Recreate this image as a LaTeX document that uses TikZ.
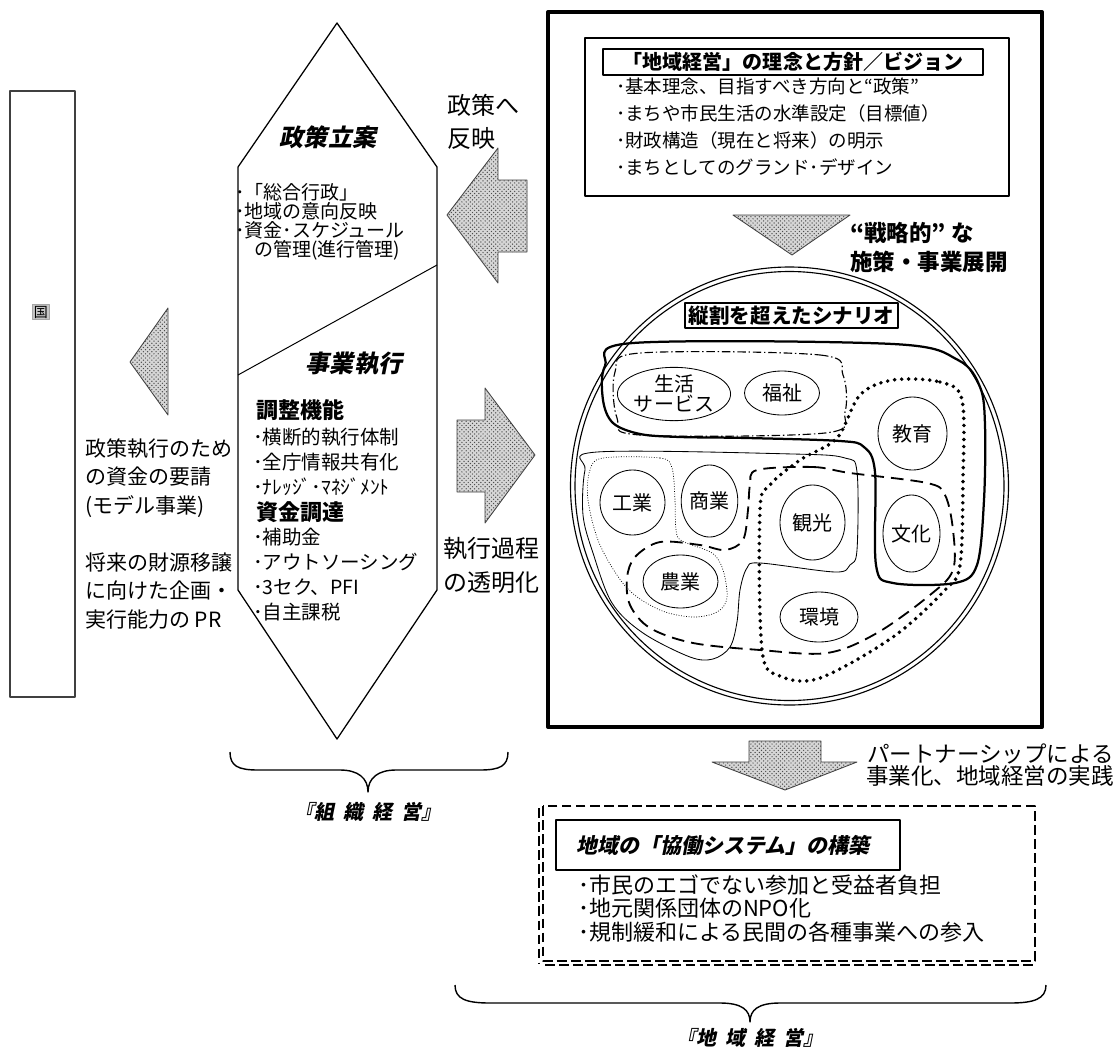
\documentclass[tikz,border=0pt]{standalone}
\usepackage{fontspec}
\setmainfont{Noto Sans CJK JP}
\newfontfamily\jpsl{Noto Sans CJK JP}[FakeSlant=0.2]
\usetikzlibrary{patterns,shapes.geometric}
\newcommand\px[2]{\fontsize{\fpeval{#1*0.71132}pt}{\fpeval{#2*0.71132}pt}\selectfont}
\newcommand\txtlines[6]{%
  \foreach \lntxt [count=\i from 0] in {#6} {\node[#2] (#1\i) at (#3,{#4+\i*#5}) {\lntxt};}}
\newcommand\fieldnode[6]{\node[field, minimum width={#4*0.025cm}, minimum height={#5*0.025cm}] (#1) at (#2,#3) {#6};}
\newcommand\gapsp{\hspace{0.45em}}
\tikzset{
  lbl/.style={anchor=base west, inner sep=0pt, outer sep=0pt},
  cbl/.style={anchor=base, inner sep=0pt, outer sep=0pt},
  hatch/.style={draw=black!75, line width=0.6pt, fill=gray!32,
    postaction={pattern=crosshatch dots, pattern color=black!70}},
  field/.style={ellipse, draw, line width=0.6pt, inner sep=0pt, align=center, font={\px{20}{20}}},
}
\begin{document}
\begin{tikzpicture}[x=0.025cm,y=-0.025cm,line join=round]
\useasboundingbox (0,0) rectangle (1119,1052);
\fill[white] (0,0) rectangle (1119,1052);

% ---- country column
\draw[line width=0.8pt, black!75] (10,91) rectangle (75,697);
\node[fill=gray!45, draw=gray!70, inner sep=1pt, font={\px{14}{14}}] (kuni) at (41,312) {国};
\draw[hatch] (130,362) -- (168,308) -- (168,415) -- cycle;
\txtlines{req}{lbl, font={\px{21}{21}}}{85}{456}{28.5}{政策執行のため,の資金の要請,(モデル事業)}
\txtlines{pr}{lbl, font={\px{21}{21}}}{85}{570}{28.5}{将来の財源移譲,に向けた企画・,実行能力の PR}

% ---- organisation hexagon
\draw[line width=0.9pt] (337,23) -- (437,167) -- (437,590) -- (337,739) -- (238,590) -- (238,167) -- cycle;
\draw[line width=0.7pt] (437,265) -- (238,375);
\node[cbl, font={\jpsl\bfseries\px{24}{24}}] (plan) at (328,146) {政策立案};
\txtlines{pl}{lbl, font={\px{19}{19}}}{235}{199}{19}{･「総合行政」,･地域の意向反映,･資金･スケジュール}
\node[lbl, font={\px{19}{19}}] (pl3) at (254,256) {の管理(進行管理)};
\node[cbl, font={\jpsl\bfseries\px{24}{24}}] (exec) at (354,372) {事業執行};
\node[lbl, font={\bfseries\px{22}{22}}] (adj) at (256,418) {調整機能};
\txtlines{ad}{lbl, font={\px{19.5}{19.5}}}{253}{444.5}{25}{･横断的執行体制,･全庁情報共有化,･ﾅﾚｯｼﾞ･ﾏﾈｼﾞﾒﾝﾄ}
\node[lbl, font={\bfseries\px{22}{22}}] (fund) at (256,520) {資金調達};
\txtlines{fu}{lbl, font={\px{19.5}{19.5}}}{253}{544.5}{25}{･補助金,･アウトソーシング,･3セク、PFI,･自主課税}

% ---- middle arrows
\txtlines{refl}{lbl, font={\px{24}{24}}}{447}{114}{33}{政策へ,反映}
\draw[hatch] (447,215) -- (498,148) -- (498,180) -- (527,180) -- (527,252) -- (498,252) -- (498,283) -- cycle;
\draw[hatch] (457,420) -- (485,420) -- (485,388) -- (535,455) -- (485,523) -- (485,492) -- (457,492) -- cycle;
\txtlines{trans}{lbl, font={\px{24}{24}}}{443}{557}{34}{執行過程,の透明化}

% ---- regional management box
\draw[line width=2.8pt] (548,12) rectangle (1042,727);
\draw[line width=1pt] (585,38) rectangle (1009,196);
\draw[line width=0.9pt] (603,49) rectangle (983,75);
\node[cbl, font={\bfseries\px{20}{20}}] (vision) at (793,69.5) {「地域経営」の理念と方針／ビジョン};
\txtlines{vi}{lbl, font={\px{18.5}{18.5}}}{616}{93.8}{27}{･基本理念、目指すべき方向と“政策”,･まちや市民生活の水準設定（目標値）,･財政構造（現在と将来）の明示,･まちとしてのグランド･デザイン}
\draw[hatch] (733,215) -- (850,215) -- (792,255) -- cycle;
\txtlines{strat}{lbl, font={\bfseries\px{22.5}{22.5}}}{850}{241}{29}{“戦略的” な,施策・事業展開}

% circle
\draw[line width=0.8pt] (789.5,486) circle (219);
\draw[line width=0.8pt] (789.5,486) circle (214.5);
\draw[line width=0.8pt] (685,303) rectangle (898,328);
\node[cbl, font={\bfseries\px{20.5}{20.5}}] (scen) at (791.5,323) {縦割を超えたシナリオ};

% groupings
\draw[line width=1.6pt] plot[smooth cycle, tension=0.55] coordinates {
 (633,343) (893,344) (958,360) (980,387) (985,425) (984,500) (977,565) (955,583) (893,583)
 (876,565) (875,472) (864,447) (840,441) (747,438) (680,437) (640,434) (613,423) (603,400) (605,366)};
\draw[line width=0.8pt, dash pattern=on 6pt off 2pt on 1pt off 2pt] plot[smooth cycle, tension=0.55] coordinates {
 (640,353) (820,355) (843,375) (845,412) (825,433) (640,435) (617,418) (615,372)};
\draw[line width=0.6pt] plot[smooth cycle, tension=0.55] coordinates {
 (597,452) (793,454) (845,458) (857,472) (857,550) (850,565) (835,572) (760,563) (747,568)
 (740,590) (737,622) (730,647) (713,659) (690,657) (643,633) (612,603) (593,553) (583,515) (585,470)};
\draw[line width=0.5pt, dash pattern=on 0.6pt off 1.2pt] plot[smooth cycle, tension=0.55] coordinates {
 (603,458) (660,458) (672,468) (675,500) (676,530) (682,541) (712,553) (723,570) (727,598)
 (717,612) (693,617) (660,610) (627,588) (600,545) (588,500) (590,470)};
\draw[line width=1.3pt, dash pattern=on 9pt off 5pt] plot[smooth cycle, tension=0.55] coordinates {
 (757,470) (813,467) (850,473) (927,483) (945,495) (953,530) (953,570) (930,595) (877,633)
 (827,653) (760,650) (693,643) (650,628) (630,605) (627,578) (635,557) (660,542) (700,545)
 (725,550) (743,540) (748,510) (750,485)};
\draw[line width=2.8pt, line cap=round, dash pattern=on 0pt off 5pt] plot[smooth cycle, tension=0.55] coordinates {
 (893,380) (940,382) (962,400) (963,480) (960,565) (945,590) (893,637) (820,678) (780,676)
 (762,650) (760,510) (770,485) (800,460) (837,438) (860,395)};

% fields
\fieldnode{life}{674}{394}{98}{48}{生活\\サービス}
\fieldnode{welf}{782}{393}{75}{44}{福祉}
\fieldnode{edu}{912.5}{433.5}{69}{73}{教育}
\fieldnode{cult}{911.5}{533.5}{57}{77}{文化}
\fieldnode{tour}{812.5}{522.5}{65}{75}{観光}
\fieldnode{env}{819}{617}{78}{50}{環境}
\fieldnode{ind}{632.5}{502.5}{65}{65}{工業}
\fieldnode{com}{709.5}{501}{55}{72}{商業}
\fieldnode{agr}{680.5}{581.5}{75}{53}{農業}

% ---- bottom: collaboration
\draw[hatch] (749,741) -- (821,741) -- (821,762) -- (857,762) -- (785,790) -- (712,762) -- (749,762) -- cycle;
\node[anchor=base east, inner sep=0pt, font={\px{22.5}{22.5}}] (part1) at (1114,762) {パートナーシップによる};
\node[anchor=base east, inner sep=0pt, font={\px{22.5}{22.5}}] (part2) at (1114,784) {事業化、地域経営の実践};
\draw[line width=1pt, dash pattern=on 7pt off 3pt] (543,806) rectangle (1035,961);
\draw[line width=1pt, dash pattern=on 7pt off 3pt] (545,965) -- (1035,965);
\draw[line width=1pt, dash pattern=on 7pt off 3pt] (539,808) -- (539,963);
\draw[line width=0.9pt] (556,820) rectangle (900,870);
\node[lbl, font={\jpsl\bfseries\px{21}{21}}] (collab) at (576,853) {地域の「協働システム」の構築};
\txtlines{co}{lbl, font={\px{22}{22}}}{578}{893}{23.5}{･市民のエゴでない参加と受益者負担,･地元関係団体のNPO化,･規制緩和による民間の各種事業への参入}

% ---- braces
\draw[line width=1pt] (230,752) .. controls (230,766) and (238,770) .. (258,770) -- (340,770)
  .. controls (358,770) and (368,778) .. (368,792) .. controls (368,778) and (378,770) .. (396,770)
  -- (480,770) .. controls (500,770) and (508,766) .. (508,752);
\node[cbl, font={\jpsl\bfseries\px{20}{20}}] (orgm) at (368,819) {『組\gapsp 織\gapsp 経\gapsp 営』};
\draw[line width=1pt] (455,985) .. controls (455,999) and (466,1003) .. (490,1003) -- (720,1003)
  .. controls (742,1003) and (750,1010) .. (750,1022) .. controls (750,1010) and (758,1003) .. (780,1003)
  -- (1010,1003) .. controls (1034,1003) and (1046,999) .. (1046,985);
\node[cbl, font={\jpsl\bfseries\px{20}{20}}] (regm) at (750,1045) {『地\gapsp 域\gapsp 経\gapsp 営』};
\end{tikzpicture}
\end{document}
